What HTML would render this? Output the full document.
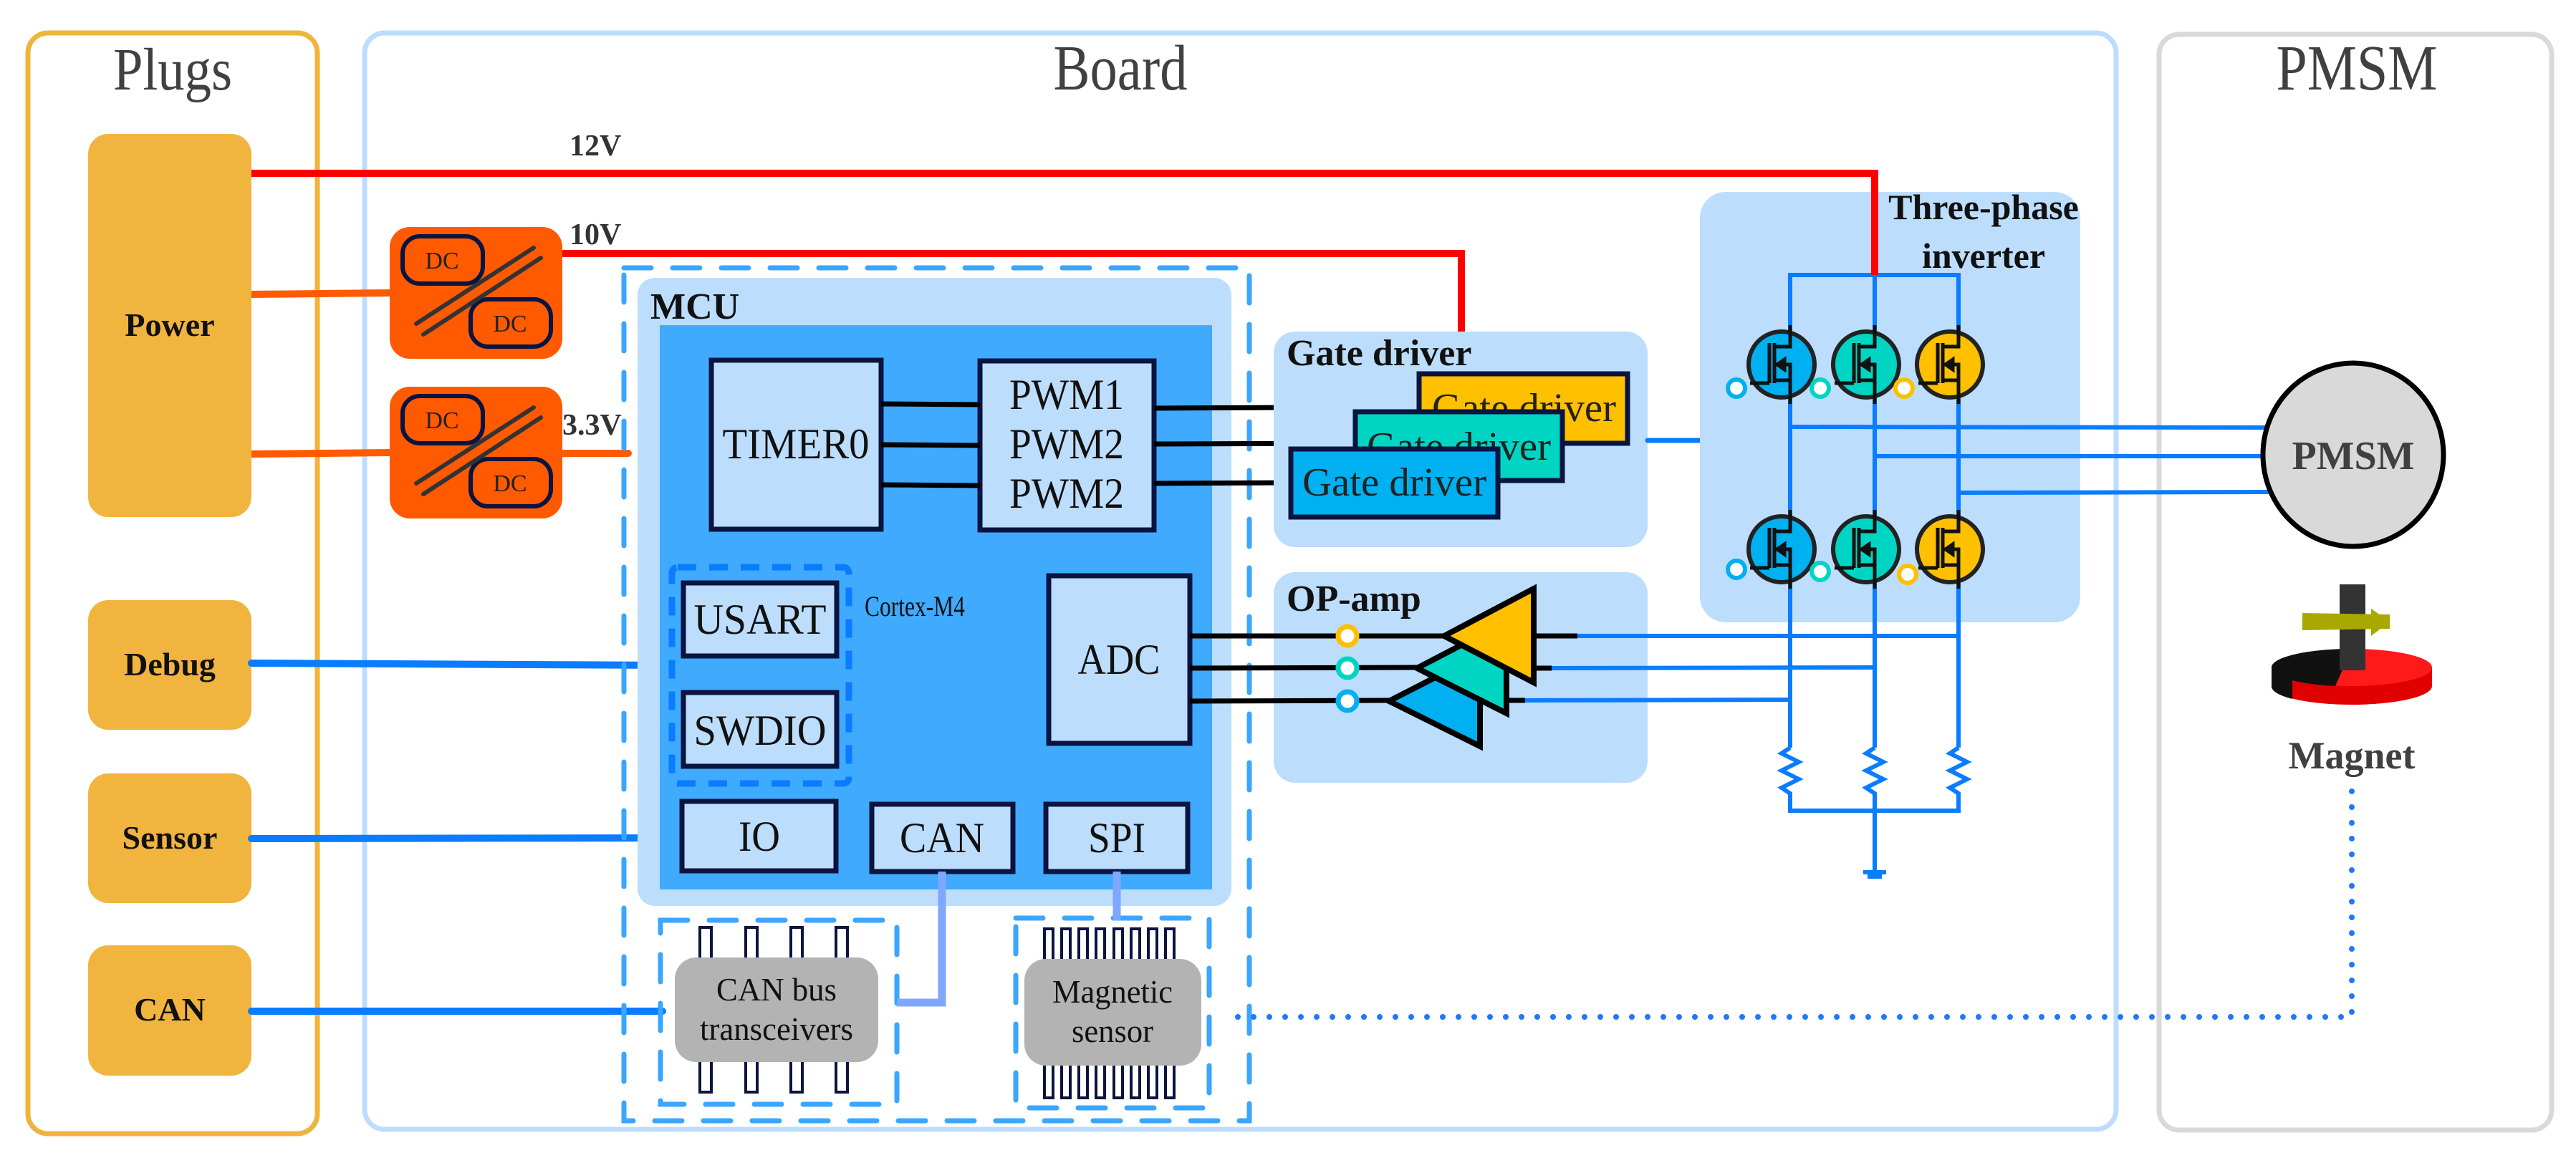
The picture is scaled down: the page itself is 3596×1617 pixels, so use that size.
<!DOCTYPE html>
<html><head><meta charset="utf-8"><style>
html,body{margin:0;padding:0;background:#fff;}
svg{display:block;}
text{font-family:"Liberation Serif",serif;}
</style></head><body>
<svg width="3596" height="1617" viewBox="0 0 3596 1617" xmlns="http://www.w3.org/2000/svg">
<defs>
<g id="fet">
  <circle cx="0" cy="0" r="46" stroke="#222" stroke-width="6"/>
  <g stroke="#111" stroke-width="5" fill="none">
    <line x1="-17" y1="-30" x2="-17" y2="26"/>
    <line x1="-10" y1="-30" x2="-10" y2="26"/>
    <polyline points="-10,-25 12,-25 12,-55"/>
    <polyline points="-10,22 12,22 12,55"/>
    <polyline points="-10,0 12,0 12,22"/>
    <polyline points="-17,26 -44,26"/>
    <polygon points="-6,0 4,-7 4,7" fill="#111"/>
  </g>
</g>
</defs>

<!-- Frames -->
<rect x="39" y="46" width="404" height="1537" rx="28" fill="none" stroke="#F0B43C" stroke-width="7"/>
<rect x="509" y="46" width="2445" height="1531" rx="28" fill="none" stroke="#BDDCFF" stroke-width="7"/>
<rect x="3014" y="48" width="548" height="1530" rx="28" fill="none" stroke="#D9D9D9" stroke-width="7"/>
<text x="241" y="125" font-size="84" fill="#404040" text-anchor="middle" textLength="166" lengthAdjust="spacingAndGlyphs">Plugs</text>
<text x="1564" y="125" font-size="90" fill="#404040" text-anchor="middle" textLength="187" lengthAdjust="spacingAndGlyphs">Board</text>
<text x="3290" y="125" font-size="90" fill="#404040" text-anchor="middle" textLength="225" lengthAdjust="spacingAndGlyphs">PMSM</text>

<!-- Plugs -->
<g fill="#F1B43E">
<rect x="123" y="187" width="228" height="535" rx="28"/>
<rect x="123" y="838" width="228" height="181" rx="28"/>
<rect x="123" y="1080" width="228" height="181" rx="28"/>
<rect x="123" y="1320" width="228" height="182" rx="28"/>
</g>
<g font-weight="bold" font-size="46" fill="#111" text-anchor="middle">
<text x="237" y="469">Power</text>
<text x="237" y="943">Debug</text>
<text x="237" y="1185">Sensor</text>
<text x="237" y="1425">CAN</text>
</g>

<!-- Power lines -->
<polyline points="351,242 2617,242 2617,384" fill="none" stroke="#FF0000" stroke-width="10"/>
<polyline points="785,354 2040,354 2040,463" fill="none" stroke="#FF0000" stroke-width="10"/>
<line x1="351" y1="411" x2="544" y2="409" stroke="#FF5A00" stroke-width="10"/>
<line x1="351" y1="634" x2="544" y2="632" stroke="#FF5A00" stroke-width="10"/>
<line x1="785" y1="633" x2="877" y2="633" stroke="#FF5A00" stroke-width="10" stroke-linecap="round"/>
<g font-weight="bold" font-size="42" fill="#333">
<text x="795" y="217">12V</text>
<text x="795" y="341">10V</text>
<text x="785" y="607">3.3V</text>
</g>

<!-- DC converters -->
<g id="dc1">
<rect x="544" y="317" width="241" height="184" rx="28" fill="#FF5A00"/>
<rect x="562" y="330" width="112" height="66" rx="24" fill="none" stroke="#0A1440" stroke-width="6"/>
<rect x="657" y="418" width="112" height="66" rx="24" fill="none" stroke="#0A1440" stroke-width="6"/>
<line x1="581" y1="452" x2="745" y2="346" stroke="#333" stroke-width="6" stroke-linecap="round"/>
<line x1="591" y1="467" x2="755" y2="360" stroke="#333" stroke-width="6" stroke-linecap="round"/>
<text x="617" y="375" font-size="34" fill="#222" text-anchor="middle">DC</text>
<text x="712" y="463" font-size="34" fill="#222" text-anchor="middle">DC</text>
</g>
<use href="#dc1" transform="translate(0,223)"/>

<!-- Signal lines from plugs -->
<g stroke="#0A7CFF" stroke-width="10" stroke-linecap="round">
<line x1="351" y1="926" x2="931" y2="929"/>
<line x1="351" y1="1171" x2="952" y2="1170"/>
<line x1="351" y1="1412" x2="925" y2="1412"/>
</g>

<!-- MCU -->
<rect x="871" y="374" width="873" height="1191" fill="none" stroke="#3AA6FF" stroke-width="7" stroke-dasharray="38 30" stroke-linecap="round"/>
<rect x="890" y="388" width="829" height="877" rx="24" fill="#BDDDFD"/>
<rect x="921" y="454" width="771" height="788" fill="#40AAFF"/>
<text x="908" y="445" font-size="52" font-weight="bold" fill="#111">MCU</text>

<g fill="#BDDDFD" stroke="#0A1440" stroke-width="7">
<rect x="993" y="503" width="237" height="236"/>
<rect x="1368" y="504" width="243" height="236"/>
<rect x="954" y="814" width="214" height="102"/>
<rect x="954" y="967" width="214" height="103"/>
<rect x="1464" y="804" width="197" height="234"/>
<rect x="952" y="1119" width="215" height="97"/>
<rect x="1217" y="1123" width="197" height="94"/>
<rect x="1460" y="1123" width="198" height="94"/>
</g>
<rect x="938" y="792" width="247" height="302" rx="8" fill="none" stroke="#0A7CFF" stroke-width="9" stroke-dasharray="26 18"/>
<g stroke="#000" stroke-width="7">
<line x1="1230" y1="564" x2="1368" y2="565"/>
<line x1="1230" y1="621" x2="1368" y2="622"/>
<line x1="1230" y1="677" x2="1368" y2="678"/>
<line x1="1611" y1="570" x2="1981" y2="568"/>
<line x1="1611" y1="620" x2="1892" y2="619"/>
<line x1="1611" y1="675" x2="1802" y2="674"/>
</g>
<g font-size="60" fill="#111" text-anchor="middle" lengthAdjust="spacingAndGlyphs">
<text x="1111" y="640" textLength="205" lengthAdjust="spacingAndGlyphs">TIMER0</text>
<text x="1489" y="571" textLength="160" lengthAdjust="spacingAndGlyphs">PWM1</text>
<text x="1489" y="640" textLength="160" lengthAdjust="spacingAndGlyphs">PWM2</text>
<text x="1489" y="709" textLength="160" lengthAdjust="spacingAndGlyphs">PWM2</text>
<text x="1061" y="885" textLength="185" lengthAdjust="spacingAndGlyphs">USART</text>
<text x="1061" y="1040" textLength="185" lengthAdjust="spacingAndGlyphs">SWDIO</text>
<text x="1562" y="941" textLength="115" lengthAdjust="spacingAndGlyphs">ADC</text>
<text x="1060" y="1188" textLength="58" lengthAdjust="spacingAndGlyphs">IO</text>
<text x="1315" y="1190" textLength="118" lengthAdjust="spacingAndGlyphs">CAN</text>
<text x="1559" y="1190" textLength="80" lengthAdjust="spacingAndGlyphs">SPI</text>
</g>
<text x="1207" y="860" font-size="40" fill="#111" textLength="140" lengthAdjust="spacingAndGlyphs">Cortex-M4</text>

<!-- CAN transceiver -->
<rect x="922" y="1285" width="330" height="257" fill="none" stroke="#3AA6FF" stroke-width="7" stroke-dasharray="38 30" stroke-linecap="round"/>
<g fill="#fff" stroke="#0A1440" stroke-width="4">
<rect x="977" y="1295" width="16" height="44"/><rect x="1041" y="1295" width="16" height="44"/><rect x="1104" y="1295" width="16" height="44"/><rect x="1167" y="1295" width="16" height="44"/>
<rect x="977" y="1480" width="16" height="45"/><rect x="1041" y="1480" width="16" height="45"/><rect x="1104" y="1480" width="16" height="45"/><rect x="1167" y="1480" width="16" height="45"/>
</g>
<rect x="942" y="1337" width="284" height="146" rx="30" fill="#B3B3B3"/>
<text x="1084" y="1397" font-size="46" fill="#111" text-anchor="middle" textLength="168" lengthAdjust="spacingAndGlyphs">CAN bus</text>
<text x="1084" y="1452" font-size="46" fill="#111" text-anchor="middle" textLength="214" lengthAdjust="spacingAndGlyphs">transceivers</text>
<polyline points="1315,1217 1315,1400 1252,1400" fill="none" stroke="#7FA7FF" stroke-width="11"/>

<!-- Magnetic sensor -->
<rect x="1418" y="1282" width="270" height="265" fill="none" stroke="#3AA6FF" stroke-width="7" stroke-dasharray="38 30" stroke-linecap="round"/>
<g fill="#fff" stroke="#0A1440" stroke-width="4">
<rect x="1458" y="1297" width="12" height="44"/><rect x="1482" y="1297" width="12" height="44"/><rect x="1506" y="1297" width="12" height="44"/><rect x="1530" y="1297" width="12" height="44"/><rect x="1555" y="1297" width="12" height="44"/><rect x="1579" y="1297" width="12" height="44"/><rect x="1603" y="1297" width="12" height="44"/><rect x="1627" y="1297" width="12" height="44"/>
<rect x="1458" y="1486" width="12" height="47"/><rect x="1482" y="1486" width="12" height="47"/><rect x="1506" y="1486" width="12" height="47"/><rect x="1530" y="1486" width="12" height="47"/><rect x="1555" y="1486" width="12" height="47"/><rect x="1579" y="1486" width="12" height="47"/><rect x="1603" y="1486" width="12" height="47"/><rect x="1627" y="1486" width="12" height="47"/>
</g>
<rect x="1430" y="1339" width="247" height="149" rx="30" fill="#B3B3B3"/>
<text x="1553" y="1400" font-size="46" fill="#111" text-anchor="middle" textLength="168" lengthAdjust="spacingAndGlyphs">Magnetic</text>
<text x="1553" y="1455" font-size="46" fill="#111" text-anchor="middle" textLength="114" lengthAdjust="spacingAndGlyphs">sensor</text>
<line x1="1559" y1="1217" x2="1559" y2="1285" stroke="#7FA7FF" stroke-width="11"/>

<!-- dotted link -->
<polyline points="3283,1105 3283,1420 1708,1420" fill="none" stroke="#1E78FF" stroke-width="8" stroke-dasharray="0 22" stroke-linecap="round"/>

<!-- Gate driver panel -->
<rect x="1778" y="463" width="522" height="301" rx="30" fill="#BDDDFD"/>
<text x="1796" y="510" font-size="52" font-weight="bold" fill="#111">Gate driver</text>
<rect x="1981" y="522" width="291" height="97" fill="#FFC000" stroke="#0A1440" stroke-width="7"/>
<text x="1999" y="588" font-size="56" fill="#222" textLength="257" lengthAdjust="spacingAndGlyphs">Gate driver</text>
<rect x="1892" y="575" width="289" height="96" fill="#00D5C4" stroke="#0A1440" stroke-width="7"/>
<text x="1908" y="642" font-size="56" fill="#222" textLength="257" lengthAdjust="spacingAndGlyphs">Gate driver</text>
<rect x="1802" y="627" width="289" height="95" fill="#00B0F0" stroke="#0A1440" stroke-width="7"/>
<text x="1818" y="692" font-size="56" fill="#222" textLength="257" lengthAdjust="spacingAndGlyphs">Gate driver</text>
<line x1="2300" y1="615" x2="2373" y2="615" stroke="#0A7CFF" stroke-width="7" stroke-linecap="round"/>

<!-- OP-amp panel -->
<rect x="1778" y="799" width="522" height="294" rx="30" fill="#BDDDFD"/>
<text x="1796" y="853" font-size="52" font-weight="bold" fill="#111">OP-amp</text>
<g stroke="#000" stroke-width="7">
<line x1="1661" y1="888" x2="2016" y2="888"/>
<line x1="1661" y1="933" x2="1978" y2="932"/>
<line x1="1661" y1="979" x2="1939" y2="978"/>
<line x1="2141" y1="888" x2="2202" y2="888"/>
<line x1="2103" y1="933" x2="2166" y2="933"/>
<line x1="2066" y1="978" x2="2129" y2="978"/>
</g>
<g stroke="#000" stroke-width="8" stroke-linejoin="miter">
<polygon points="1939,979 2066,914 2066,1042" fill="#00B0F0"/>
<polygon points="1978,933 2103,868 2103,996" fill="#00D5C4"/>
<polygon points="2016,888 2141,822 2141,953" fill="#FFC000"/>
</g>
<g fill="#fff" stroke-width="7">
<circle cx="1881" cy="888" r="13" stroke="#FFC000"/>
<circle cx="1881" cy="933" r="13" stroke="#00D5C4"/>
<circle cx="1881" cy="979" r="13" stroke="#00B0F0"/>
</g>

<!-- Inverter -->
<rect x="2373" y="268" width="531" height="601" rx="36" fill="#BDDDFD"/>
<g stroke="#0A7CFF" stroke-width="6" fill="none">
<polyline points="2499,1044 2499,384 2734,384 2734,1044"/>
<line x1="2617" y1="384" x2="2617" y2="1044"/>
<line x1="2499" y1="596" x2="3166" y2="597"/>
<line x1="2617" y1="637" x2="3162" y2="637"/>
<line x1="2734" y1="688" x2="3170" y2="687"/>
<line x1="2202" y1="888" x2="2734" y2="888"/>
<line x1="2166" y1="933" x2="2617" y2="932"/>
<line x1="2129" y1="978" x2="2499" y2="977"/>
<polyline points="2499,1044 2487,1052 2511,1064 2487,1076 2511,1088 2487,1100 2499,1108 2499,1132 2734,1132 2734,1108 2722,1100 2746,1088 2722,1076 2746,1064 2722,1052 2734,1044"/>
<polyline points="2617,1044 2605,1052 2629,1064 2605,1076 2629,1088 2605,1100 2617,1108 2617,1218"/>
<line x1="2601" y1="1218" x2="2633" y2="1218"/>
<line x1="2607" y1="1224" x2="2627" y2="1224"/>
</g>
<line x1="2617" y1="242" x2="2617" y2="384" stroke="#FF0000" stroke-width="10"/>
<text x="2769" y="306" font-size="50" font-weight="bold" fill="#111" text-anchor="middle">Three-phase</text>
<text x="2769" y="374" font-size="50" font-weight="bold" fill="#111" text-anchor="middle">inverter</text>
<use href="#fet" x="2487" y="509" fill="#00B0F0"/>
<use href="#fet" x="2605" y="509" fill="#00D5C4"/>
<use href="#fet" x="2722" y="509" fill="#FFC000"/>
<use href="#fet" x="2487" y="767" fill="#00B0F0"/>
<use href="#fet" x="2605" y="767" fill="#00D5C4"/>
<use href="#fet" x="2722" y="767" fill="#FFC000"/>
<g fill="#fff" stroke-width="6">
<circle cx="2424" cy="542" r="12" stroke="#00B0F0"/>
<circle cx="2541" cy="542" r="12" stroke="#00D5C4"/>
<circle cx="2658" cy="542" r="12" stroke="#FFC000"/>
<circle cx="2424" cy="795" r="12" stroke="#00B0F0"/>
<circle cx="2541" cy="798" r="12" stroke="#00D5C4"/>
<circle cx="2663" cy="802" r="12" stroke="#FFC000"/>
</g>

<!-- PMSM motor -->
<ellipse cx="3285" cy="635" rx="126" ry="128" fill="#D9D9D9" stroke="#000" stroke-width="7"/>
<text x="3285" y="655" font-size="56" font-weight="bold" fill="#404040" text-anchor="middle">PMSM</text>

<!-- Magnet -->
<path d="M3171,932 L3171,958 A112,26 0 0 0 3395,958 L3395,932 Z" fill="#E00000"/>
<path d="M3171,932 L3171,958 A112,26 0 0 0 3200,976 L3200,950 Z" fill="#111"/>
<ellipse cx="3283" cy="932" rx="112" ry="26" fill="#FF1A1A"/>
<path d="M3171,932 A112,26 0 0 1 3283,906 L3260,958 A112,26 0 0 1 3171,932 Z" fill="#111"/>
<rect x="3266" y="816" width="36" height="120" fill="#333"/>
<path d="M3214,856 L3336,858 L3336,878 L3214,880 Z" fill="#A8A800"/>
<polygon points="3310,850 3336,868 3310,888" fill="#A8A800"/>
<text x="3283" y="1073" font-size="54" font-weight="bold" fill="#404040" text-anchor="middle">Magnet</text>
</svg>
</body></html>
